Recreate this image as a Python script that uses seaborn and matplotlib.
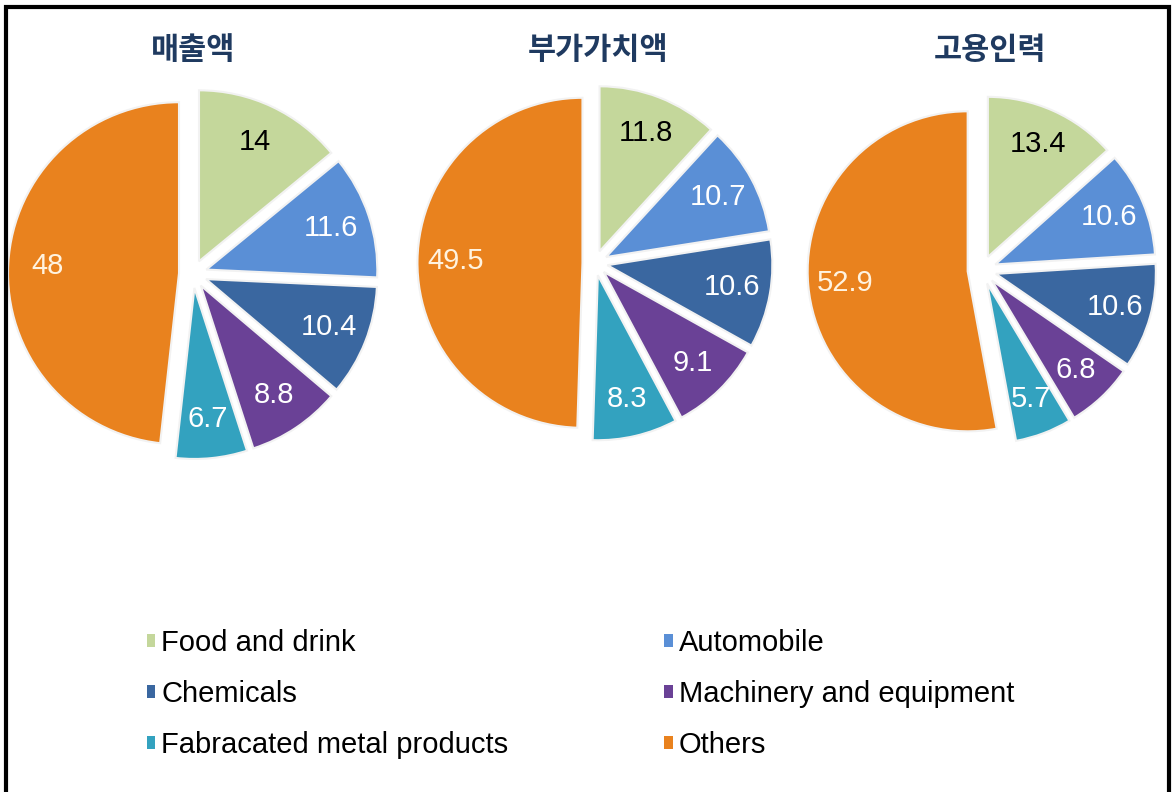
import matplotlib
matplotlib.use("Agg")
import matplotlib.pyplot as plt
import seaborn as sns
from matplotlib.patches import Patch, Rectangle

# ---- data ----
categories = ["Food and drink", "Automobile", "Chemicals",
              "Machinery and equipment", "Fabracated metal products", "Others"]
titles = ["매출액", "부가가치액", "고용인력"]
sales = [14, 11.6, 10.4, 8.8, 6.7, 48]
value_added = [11.8, 10.7, 10.6, 9.1, 8.3, 49.5]
employment = [13.4, 10.6, 10.6, 6.8, 5.7, 52.9]
sales_labels = ["14", "11.6", "10.4", "8.8", "6.7", "48"]
value_added_labels = ["11.8", "10.7", "10.6", "9.1", "8.3", "49.5"]
employment_labels = ["13.4", "10.6", "10.6", "6.8", "5.7", "52.9"]

colors = ["#C4D79B", "#5A8FD6", "#3A67A0", "#6A4196", "#33A2BF", "#E9821E"]
text_colors = ["black", "white", "white", "white", "white", "#FFF3E0"]

sns.set_theme(style="white")
palette = sns.color_palette(colors)
plt.rcParams["font.family"] = ["Liberation Sans", "DejaVu Sans"]

W, H = 1176, 792
fig = plt.figure(figsize=(W / 100, H / 100), dpi=100)
fig.patch.set_facecolor("white")

# pie geometry in pixels: (cx, cy, r, explode)
geom = [(193, 274, 171, 0.082), (595, 263, 165, 0.076), (982, 270, 160, 0.09)]
datasets = [sales, value_added, employment]
labelsets = [sales_labels, value_added_labels, employment_labels]
title_x = [193, 598, 990]

span = 1.25
for (cx, cy, r, ex), vals, labs in zip(geom, datasets, labelsets):
    size = 2 * span * r
    ax = fig.add_axes([(cx - span * r) / W, 1 - (cy + span * r) / H, size / W, size / H])
    wedges, _, autotexts = ax.pie(
        vals, colors=palette, startangle=90, counterclock=False,
        explode=[ex] * len(vals), autopct="%1.1f", pctdistance=0.77,
        wedgeprops=dict(edgecolor="#F2F2F2", linewidth=1.5),
        textprops=dict(fontsize=21),
    )
    for t, s, c in zip(autotexts, labs, text_colors):
        t.set_text(s)
        t.set_color(c)
    ax.set_xlim(-span, span)
    ax.set_ylim(-span, span)
    ax.set_aspect("equal")
    ax.axis("off")

for t, x in zip(titles, title_x):
    fig.text(x / W, 1 - 50 / H, t, ha="center", va="center", fontsize=22,
             fontweight="bold", color="#1F3A60",
             family=["Noto Sans CJK KR", "DejaVu Sans"])

handles = [Patch(facecolor=c, edgecolor="none") for c in palette]
order = [0, 2, 4, 1, 3, 5]
fig.legend([handles[i] for i in order], [categories[i] for i in order],
           ncol=2, loc="upper left", bbox_to_anchor=(132 / W, 1 - 614 / H),
           frameon=False, fontsize=21, labelcolor="black",
           handlelength=0.3, handleheight=0.3,
           handletextpad=0.2, columnspacing=5.35, labelspacing=0.8, borderpad=0)

fig.patches.append(Rectangle((6 / W, -0.02), (W - 13) / W, 1 - 7 / H + 0.02,
                             transform=fig.transFigure, fill=False,
                             edgecolor="black", linewidth=3))

fig.savefig("out.png", dpi=100)
